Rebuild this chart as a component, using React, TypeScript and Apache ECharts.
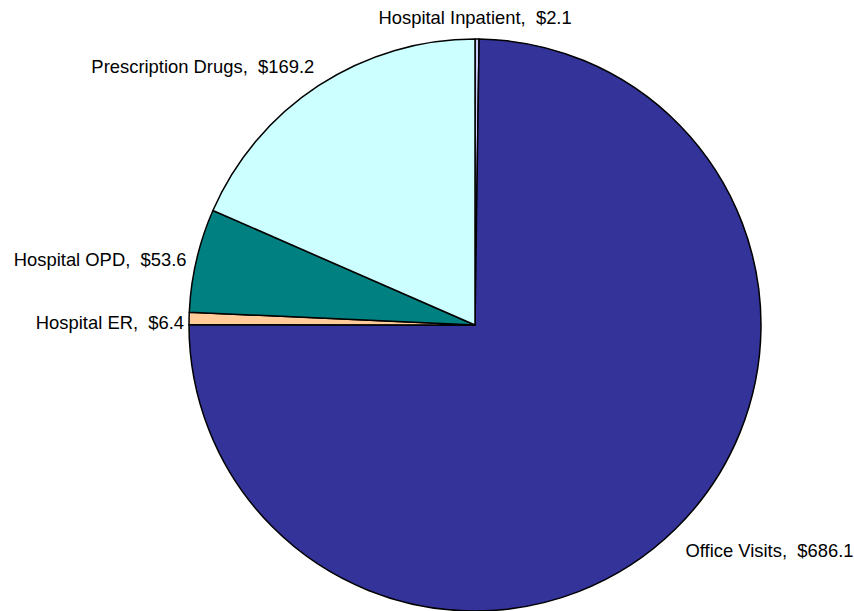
import React, { useEffect, useRef } from "react";
import * as echarts from "echarts";

const categories = ["Hospital Inpatient", "Office Visits", "Hospital ER", "Hospital OPD", "Prescription Drugs"];
const values = [2.1, 686.1, 6.4, 53.6, 169.2];
const colors = ["#ccccff", "#333399", "#ffcc99", "#008080", "#ccffff"];

// label nudges relative to ECharts' default outside placement
const labelNudge: Record<number, { dx: number; dy: number; align?: string }> = {
  0: { dx: -7, dy: -18, align: "center" },
  1: { dx: 2, dy: 19 },
  2: { dx: 4, dy: 4 },
  3: { dx: -1, dy: 0 },
  4: { dx: 3, dy: -16 },
};

export default function App() {
  const ref = useRef<HTMLDivElement>(null);
  useEffect(() => {
    document.body.style.margin = "0";
    const chart = echarts.init(ref.current!, null, { renderer: "svg" });
    chart.setOption({
      animation: false,
      backgroundColor: "#ffffff",
      series: [
        {
          type: "pie",
          center: [475, 325],
          radius: 286,
          startAngle: 90,
          clockwise: true,
          avoidLabelOverlap: false,
          data: categories.map((name, i) => ({
            name,
            value: values[i],
            itemStyle: { color: colors[i] },
          })),
          itemStyle: { borderColor: "#000000", borderWidth: 1.5 },
          label: {
            show: true,
            position: "outside",
            fontFamily: "Liberation Sans, Arial, sans-serif",
            fontSize: 18.4,
            color: "#000000",
            formatter: (p: any) => `${p.name},  $${Number(p.value).toFixed(1)}`,
          },
          labelLine: { show: false, length: 4, length2: 0 },
          labelLayout: (p: any) => {
            const n = labelNudge[p.dataIndex] || { dx: 0, dy: 0 };
            const r: any = { dx: n.dx, dy: n.dy };
            if (n.align) r.align = n.align;
            return r;
          },
          emphasis: { disabled: true },
        },
      ],
    });
    return () => chart.dispose();
  }, []);
  return <div ref={ref} style={{ width: 854, height: 611 }} />;
}
